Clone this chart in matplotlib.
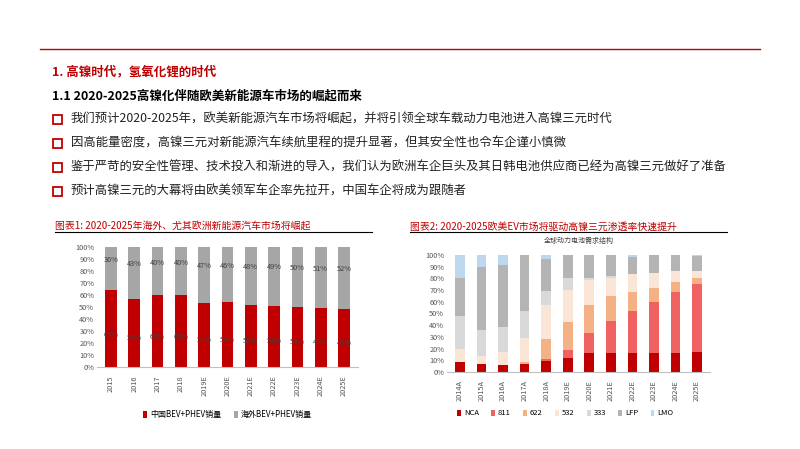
import matplotlib
matplotlib.use("Agg")
import matplotlib.pyplot as plt
import numpy as np
from matplotlib.patches import Rectangle
from matplotlib.lines import Line2D
from matplotlib import font_manager as fm
import os

_cjk = '/usr/share/fonts/opentype/noto/NotoSansCJK-Regular.ttc'
_fam = 'Noto Sans CJK SC'
if os.path.exists(_cjk):
    fm.fontManager.addfont(_cjk)
    _fam = fm.FontProperties(fname=_cjk).get_name()
    _b = '/usr/share/fonts/opentype/noto/NotoSansCJK-Bold.ttc'
    if os.path.exists(_b):
        fm.fontManager.addfont(_b)
plt.rcParams['font.family'] = [_fam, 'DejaVu Sans']

# ---- data ----
years1 = ['2015', '2016', '2017', '2018', '2019E', '2020E', '2021E', '2022E', '2023E', '2024E', '2025E']
china = [64, 57, 60, 60, 53, 54, 52, 51, 50, 49, 48]
overseas = [36, 43, 40, 40, 47, 46, 48, 49, 50, 51, 52]

years2 = ['2014A', '2015A', '2016A', '2017A', '2018A', '2019E', '2020E', '2021E', '2022E', '2023E', '2024E', '2025E']
nca = [8.6, 6.6, 5.7, 6.9, 9.0, 11.7, 16.3, 16.3, 16.3, 16.3, 16.3, 17.1]
n811 = [0, 0, 0, 0, 2.4, 7.0, 17.0, 27.0, 35.7, 43.4, 52.0, 58.0]
n622 = [0, 0, 0, 2.0, 16.6, 24.0, 23.7, 21.4, 16.3, 12.0, 8.6, 5.2]
n532 = [11.0, 7.0, 11.0, 20.5, 29.0, 27.4, 21.4, 15.7, 15.4, 12.9, 9.4, 6.0]
n333 = [28.0, 22.0, 22.0, 23.0, 12.0, 10.0, 2.0, 2.0, 0, 0, 0, 0]
lfp = [33.0, 54.0, 53.0, 47.6, 28.0, 19.9, 19.6, 17.6, 14.3, 15.4, 13.7, 13.0]
lmo = [19.0, 10.0, 8.0, 0, 3.0, 0, 0, 0, 2.0, 0, 0, 0.6]
series2 = ['NCA', '811', '622', '532', '333', 'LFP', 'LMO']
colors2 = ['#c00000', '#f06262', '#f4b183', '#fbe5d6', '#d9d9d9', '#b4b4b4', '#bdd7ee']

RED = '#c00000'
fig = plt.figure(figsize=(8, 4.49), dpi=100)

def fy(y):
    return 1 - y / 449.0

# header line
fig.add_artist(Line2D([40/800, 760/800], [fy(49), fy(49)], color=RED, lw=1))
fig.text(52/800, fy(72), '1. 高镍时代，氢氧化锂的时代', color=RED, fontsize=9, fontweight='bold', va='center')
fig.text(52/800, fy(96), '1.1 2020-2025高镍化伴随欧美新能源车市场的崛起而来', color='black', fontsize=9, fontweight='bold', va='center')
bullets = ['我们预计2020-2025年，欧美新能源汽车市场将崛起，并将引领全球车载动力电池进入高镍三元时代',
           '因高能量密度，高镍三元对新能源汽车续航里程的提升显著，但其安全性也令车企谨小慎微',
           '鉴于严苛的安全性管理、技术投入和渐进的导入，我们认为欧洲车企巨头及其日韩电池供应商已经为高镍三元做好了准备',
           '预计高镍三元的大幕将由欧美领军车企率先拉开，中国车企将成为跟随者']
for i, b in enumerate(bullets):
    y = 119 + 24 * i
    fig.add_artist(Rectangle((53/800, fy(y + 4.5)), 9/800, 9/449, fill=False, edgecolor=RED, lw=1.3))
    fig.text(71/800, fy(y), b, fontsize=8.9, va='center', color='#222222')

# chart titles
fig.text(55/800, fy(227), '图表1: 2020-2025年海外、尤其欧洲新能源汽车市场将崛起', color=RED, fontsize=7.1, va='center')
fig.add_artist(Line2D([55/800, 372/800], [fy(232), fy(232)], color='black', lw=0.8))
fig.text(410/800, fy(227), '图表2: 2020-2025欧美EV市场将驱动高镍三元渗透率快速提升', color=RED, fontsize=7.1, va='center')
fig.add_artist(Line2D([410/800, 727/800], [fy(232), fy(232)], color='black', lw=0.8))

def style(ax):
    for s in ['top', 'right', 'left']:
        ax.spines[s].set_visible(False)
    ax.spines['bottom'].set_color('#bfbfbf')
    ax.set_ylim(0, 100)
    ax.set_yticks(range(0, 101, 10))
    ax.set_yticklabels([f'{v}%' for v in range(0, 101, 10)], fontsize=5.3, color='#555555')
    ax.tick_params(length=0, pad=2)

# left chart
ax1 = fig.add_axes([97/800, fy(367), 261/800, 120/449])
x1 = np.arange(len(years1))
ax1.bar(x1, china, width=0.5, color=RED, label='中国BEV+PHEV销量')
ax1.bar(x1, overseas, bottom=china, width=0.5, color='#a6a6a6', label='海外BEV+PHEV销量')
for i in range(len(years1)):
    ax1.text(x1[i], china[i] * 0.42, f'{china[i]}%', ha='center', va='center', fontsize=5.3, color='#404040')
    ax1.text(x1[i], china[i] + overseas[i] * 0.55 + 5, f'{overseas[i]}%', ha='center', va='center', fontsize=5.3, color='#404040')
style(ax1)
ax1.set_xlim(-0.6, len(years1) - 0.4)
ax1.set_xticks(x1)
ax1.set_xticklabels(years1, rotation=90, fontsize=5.3, color='#555555')
ax1.tick_params(axis='x', pad=6)
ax1.legend(loc='upper center', bbox_to_anchor=(0.5, -0.3), ncol=2, frameon=False, fontsize=5.8,
           handlelength=0.5, handleheight=0.8, columnspacing=1.5, handletextpad=0.4)

# right chart
ax2 = fig.add_axes([447/800, fy(372), 263/800, 117/449])
x2 = np.arange(len(years2))
bottom = np.zeros(len(years2))
for name, vals, c in zip(series2, [nca, n811, n622, n532, n333, lfp, lmo], colors2):
    ax2.bar(x2, vals, bottom=bottom, width=0.45, color=c, label=name)
    bottom += np.array(vals)
style(ax2)
ax2.set_xlim(-0.6, len(years2) - 0.4)
ax2.set_xticks(x2)
ax2.set_xticklabels(years2, rotation=90, fontsize=5.3, color='#555555')
ax2.tick_params(axis='x', pad=6)
ax2.set_title('全球动力电池需求结构', fontsize=5, color='#404040', pad=9)
ax2.legend(loc='upper center', bbox_to_anchor=(0.45, -0.26), ncol=7, frameon=False, fontsize=5.5,
           handlelength=0.5, handleheight=0.8, columnspacing=1.6, handletextpad=0.4)

fig.savefig('out.png', dpi=100)
